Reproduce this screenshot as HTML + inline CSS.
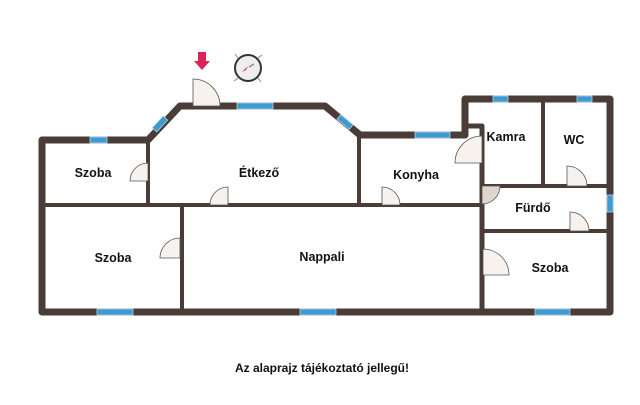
<!DOCTYPE html>
<html><head><meta charset="utf-8"><style>
html,body{margin:0;padding:0;background:#fff;}
svg{display:block;}
text{font-family:"Liberation Sans",Arial,sans-serif;font-weight:bold;fill:#111;}
</style></head><body>
<svg width="640" height="405" viewBox="0 0 640 405" xmlns="http://www.w3.org/2000/svg">
<g stroke="#4a3d37" fill="none" stroke-linejoin="round">
 <!-- outer -->
 <path d="M42,140 L148,140 L180,106 L325,106 L360,135 L465,135 L465,99 L610,99 L610,312 L42,312 Z" stroke-width="7"/>
 <path d="M465,126 L482,126 L482,312" stroke-width="5"/>
 <!-- interior -->
 <g stroke-width="4">
  <path d="M148,140 L148,205"/>
  <path d="M359,135 L359,205"/>
  <path d="M42,205 L482,205"/>
  <path d="M182,205 L182,312"/>
  <path d="M543,99 L543,186"/>
  <path d="M482,186 L610,186"/>
  <path d="M482,231 L610,231"/>
 </g>
</g>
<!-- windows -->
<g fill="#3d9bd3" stroke="#bcd" stroke-width="0.8">
 <rect x="90" y="137" width="17" height="6"/>
 <rect x="237" y="103" width="36" height="6"/>
 <rect x="415" y="132" width="35" height="6"/>
 <rect x="493" y="96" width="15" height="6"/>
 <rect x="577" y="96" width="15" height="6"/>
 <rect x="607" y="195" width="6" height="17"/>
 <rect x="97" y="309" width="36" height="6"/>
 <rect x="300" y="309" width="36" height="6"/>
 <rect x="535" y="309" width="35" height="6"/>
 <rect x="-8" y="-3" width="16" height="6" transform="translate(160,124) rotate(-47)"/>
 <rect x="-8" y="-3" width="16" height="6" transform="translate(345,122) rotate(40)"/>
</g>
<!-- doors -->
<g fill="#f7f2ee" stroke="#555" stroke-width="0.8">
 <path d="M193,106 L193,79 A27,27 0 0 1 220,106 Z"/>
 <path d="M148,181 L148,163 A18,18 0 0 0 130,181 Z"/>
 <path d="M228,205 L228,187 A18,18 0 0 0 210,205 Z"/>
 <path d="M382,205 L382,187 A18,18 0 0 1 400,205 Z"/>
 <path d="M482,163 L482,136 A27,27 0 0 0 455,163 Z"/>
 <path d="M482,186 L500,186 A18,18 0 0 1 482,204 Z" fill="#ddd6d0"/>
 <path d="M567,186 L567,166 A20,20 0 0 1 587,186 Z"/>
 <path d="M570,231 L570,212 A19,19 0 0 1 589,231 Z"/>
 <path d="M483,275 L483,249 A26,26 0 0 1 509,275 Z"/>
 <path d="M180,258 L180,238 A20,20 0 0 0 160,258 Z"/>
</g>
<!-- arrow -->
<path d="M198,52 L206,52 L206,61 L210,61 L202,70 L194,61 L198,61 Z" fill="#d8255a"/>
<!-- compass -->
<g>
 <circle cx="248" cy="68" r="13" fill="#eee" stroke="#333" stroke-width="2"/>
 <g stroke="#888" stroke-width="1">
  <line x1="238" y1="58" x2="235" y2="54"/><line x1="258" y1="58" x2="262" y2="55"/>
  <line x1="238" y1="78" x2="234" y2="81"/><line x1="258" y1="78" x2="261" y2="82"/>
 </g>
 <path d="M242,72 L248,66 L246,70 Z" fill="#d8255a"/>
 <line x1="249" y1="67" x2="254" y2="64" stroke="#888" stroke-width="1.5"/>
</g>
<!-- labels -->
<g font-size="12.5">
 <text x="93" y="177" text-anchor="middle">Szoba</text>
 <text x="259" y="177" text-anchor="middle">Étkező</text>
 <text x="416" y="179" text-anchor="middle">Konyha</text>
 <text x="506" y="141" text-anchor="middle">Kamra</text>
 <text x="574" y="144" text-anchor="middle">WC</text>
 <text x="533" y="212" text-anchor="middle">Fürdő</text>
 <text x="113" y="262" text-anchor="middle">Szoba</text>
 <text x="322" y="261" text-anchor="middle">Nappali</text>
 <text x="550" y="272" text-anchor="middle">Szoba</text>
 <text x="322" y="372" text-anchor="middle" font-size="12">Az alaprajz tájékoztató jellegű!</text>
</g>
</svg>
</body></html>
